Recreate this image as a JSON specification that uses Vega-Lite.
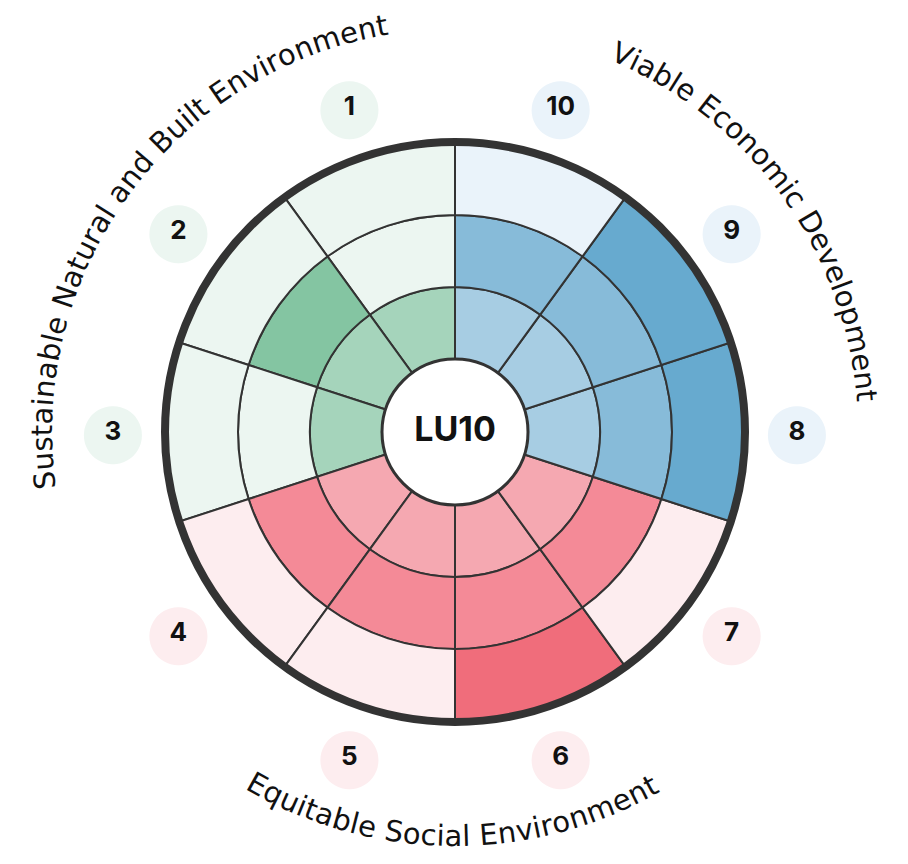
{
  "$schema": "https://vega.github.io/schema/vega-lite/v6.json",
  "width": 908,
  "height": 864,
  "autosize": {"type": "fit", "contains": "padding"},
  "padding": {"left": 2, "right": 0, "top": 0, "bottom": 0},
  "background": "#ffffff",
  "view": {"stroke": null},
  "datasets": {
    "cells": [
      {"seg": 1, "ring": 1, "a0": 324, "a1": 360, "r0": 0, "r1": 1, "lvl": "g1"},
      {"seg": 1, "ring": 2, "a0": 324, "a1": 360, "r0": 1, "r1": 2, "lvl": "g0"},
      {"seg": 1, "ring": 3, "a0": 324, "a1": 360, "r0": 2, "r1": 3, "lvl": "g0"},
      {"seg": 2, "ring": 1, "a0": 288, "a1": 324, "r0": 0, "r1": 1, "lvl": "g1"},
      {"seg": 2, "ring": 2, "a0": 288, "a1": 324, "r0": 1, "r1": 2, "lvl": "g2"},
      {"seg": 2, "ring": 3, "a0": 288, "a1": 324, "r0": 2, "r1": 3, "lvl": "g0"},
      {"seg": 3, "ring": 1, "a0": 252, "a1": 288, "r0": 0, "r1": 1, "lvl": "g1"},
      {"seg": 3, "ring": 2, "a0": 252, "a1": 288, "r0": 1, "r1": 2, "lvl": "g0"},
      {"seg": 3, "ring": 3, "a0": 252, "a1": 288, "r0": 2, "r1": 3, "lvl": "g0"},
      {"seg": 4, "ring": 1, "a0": 216, "a1": 252, "r0": 0, "r1": 1, "lvl": "r1"},
      {"seg": 4, "ring": 2, "a0": 216, "a1": 252, "r0": 1, "r1": 2, "lvl": "r2"},
      {"seg": 4, "ring": 3, "a0": 216, "a1": 252, "r0": 2, "r1": 3, "lvl": "r0"},
      {"seg": 5, "ring": 1, "a0": 180, "a1": 216, "r0": 0, "r1": 1, "lvl": "r1"},
      {"seg": 5, "ring": 2, "a0": 180, "a1": 216, "r0": 1, "r1": 2, "lvl": "r2"},
      {"seg": 5, "ring": 3, "a0": 180, "a1": 216, "r0": 2, "r1": 3, "lvl": "r0"},
      {"seg": 6, "ring": 1, "a0": 144, "a1": 180, "r0": 0, "r1": 1, "lvl": "r1"},
      {"seg": 6, "ring": 2, "a0": 144, "a1": 180, "r0": 1, "r1": 2, "lvl": "r2"},
      {"seg": 6, "ring": 3, "a0": 144, "a1": 180, "r0": 2, "r1": 3, "lvl": "r3"},
      {"seg": 7, "ring": 1, "a0": 108, "a1": 144, "r0": 0, "r1": 1, "lvl": "r1"},
      {"seg": 7, "ring": 2, "a0": 108, "a1": 144, "r0": 1, "r1": 2, "lvl": "r2"},
      {"seg": 7, "ring": 3, "a0": 108, "a1": 144, "r0": 2, "r1": 3, "lvl": "r0"},
      {"seg": 8, "ring": 1, "a0": 72, "a1": 108, "r0": 0, "r1": 1, "lvl": "b1"},
      {"seg": 8, "ring": 2, "a0": 72, "a1": 108, "r0": 1, "r1": 2, "lvl": "b2"},
      {"seg": 8, "ring": 3, "a0": 72, "a1": 108, "r0": 2, "r1": 3, "lvl": "b3"},
      {"seg": 9, "ring": 1, "a0": 36, "a1": 72, "r0": 0, "r1": 1, "lvl": "b1"},
      {"seg": 9, "ring": 2, "a0": 36, "a1": 72, "r0": 1, "r1": 2, "lvl": "b2"},
      {"seg": 9, "ring": 3, "a0": 36, "a1": 72, "r0": 2, "r1": 3, "lvl": "b3"},
      {"seg": 10, "ring": 1, "a0": 0, "a1": 36, "r0": 0, "r1": 1, "lvl": "b1"},
      {"seg": 10, "ring": 2, "a0": 0, "a1": 36, "r0": 1, "r1": 2, "lvl": "b2"},
      {"seg": 10, "ring": 3, "a0": 0, "a1": 36, "r0": 2, "r1": 3, "lvl": "b0"}
    ],
    "badges": [
      {"n": "1", "ang": 342, "lvl": "g0"},
      {"n": "2", "ang": 306, "lvl": "g0"},
      {"n": "3", "ang": 270, "lvl": "g0"},
      {"n": "4", "ang": 234, "lvl": "r0"},
      {"n": "5", "ang": 198, "lvl": "r0"},
      {"n": "6", "ang": 162, "lvl": "r0"},
      {"n": "7", "ang": 126, "lvl": "r0"},
      {"n": "8", "ang": 90, "lvl": "b0"},
      {"n": "9", "ang": 54, "lvl": "b0"},
      {"n": "10", "ang": 18, "lvl": "b0"}
    ],
    "topText": [
      {"ch": "S", "ang": 263.30}, {"ch": "u", "ang": 265.93}, {"ch": "s", "ang": 268.32}, {"ch": "t", "ang": 270.22},
      {"ch": "a", "ang": 272.30}, {"ch": "i", "ang": 274.15}, {"ch": "n", "ang": 276.04}, {"ch": "a", "ang": 278.63},
      {"ch": "b", "ang": 281.22}, {"ch": "l", "ang": 283.11}, {"ch": "e", "ang": 284.96},
      {"ch": "N", "ang": 289.11}, {"ch": "a", "ang": 291.93}, {"ch": "t", "ang": 294.02}, {"ch": "u", "ang": 296.14},
      {"ch": "r", "ang": 298.31}, {"ch": "a", "ang": 300.43}, {"ch": "l", "ang": 302.28},
      {"ch": "a", "ang": 305.45}, {"ch": "n", "ang": 308.04}, {"ch": "d", "ang": 310.67},
      {"ch": "B", "ang": 314.73}, {"ch": "u", "ang": 317.46}, {"ch": "i", "ang": 319.36}, {"ch": "l", "ang": 320.51}, {"ch": "t", "ang": 321.90},
      {"ch": "E", "ang": 325.34}, {"ch": "n", "ang": 327.97}, {"ch": "v", "ang": 330.51}, {"ch": "i", "ang": 332.31},
      {"ch": "r", "ang": 333.74}, {"ch": "o", "ang": 335.86}, {"ch": "n", "ang": 338.45}, {"ch": "m", "ang": 341.78},
      {"ch": "e", "ang": 345.08}, {"ch": "n", "ang": 347.67}, {"ch": "t", "ang": 349.80},
      {"ch": "V", "ang": 23.90}, {"ch": "i", "ang": 25.90}, {"ch": "a", "ang": 27.74}, {"ch": "b", "ang": 30.32},
      {"ch": "l", "ang": 32.20}, {"ch": "e", "ang": 34.05},
      {"ch": "E", "ang": 37.93}, {"ch": "c", "ang": 40.37}, {"ch": "o", "ang": 42.77}, {"ch": "n", "ang": 45.35},
      {"ch": "o", "ang": 47.92}, {"ch": "m", "ang": 51.19}, {"ch": "i", "ang": 53.78}, {"ch": "c", "ang": 55.49},
      {"ch": "D", "ang": 59.53}, {"ch": "e", "ang": 62.39}, {"ch": "v", "ang": 64.88}, {"ch": "e", "ang": 67.37},
      {"ch": "l", "ang": 69.22}, {"ch": "o", "ang": 71.06}, {"ch": "p", "ang": 73.63}, {"ch": "m", "ang": 76.95},
      {"ch": "e", "ang": 80.24}, {"ch": "n", "ang": 82.81}, {"ch": "t", "ang": 84.93}
    ],
    "bottomText": [
      {"ch": "E", "ang": 209.30}, {"ch": "q", "ang": 206.71}, {"ch": "u", "ang": 204.11}, {"ch": "i", "ang": 202.24},
      {"ch": "t", "ang": 200.86}, {"ch": "a", "ang": 198.80}, {"ch": "b", "ang": 196.24}, {"ch": "l", "ang": 194.37},
      {"ch": "e", "ang": 192.54},
      {"ch": "S", "ang": 188.68}, {"ch": "o", "ang": 186.12}, {"ch": "c", "ang": 183.74}, {"ch": "i", "ang": 182.04},
      {"ch": "a", "ang": 180.21}, {"ch": "l", "ang": 178.39},
      {"ch": "E", "ang": 175.22}, {"ch": "n", "ang": 172.62}, {"ch": "v", "ang": 170.11}, {"ch": "i", "ang": 168.33},
      {"ch": "r", "ang": 166.91}, {"ch": "o", "ang": 164.82}, {"ch": "n", "ang": 162.26}, {"ch": "m", "ang": 158.97},
      {"ch": "e", "ang": 155.71}, {"ch": "n", "ang": 153.15}, {"ch": "t", "ang": 151.04}
    ],
    "center": [{"label": "LU10"}]
  },
  "layer": [
    {
      "data": {"name": "cells"},
      "mark": {"type": "arc", "stroke": "#333333", "strokeWidth": 2},
      "encoding": {
        "theta": {"field": "a0", "type": "quantitative", "stack": null, "scale": {"domain": [0, 360], "range": [0, 6.283185307179586]}},
        "theta2": {"field": "a1"},
        "radius": {"field": "r0", "type": "quantitative", "scale": {"type": "linear", "domain": [0, 3], "range": [73, 289], "zero": false}},
        "radius2": {"field": "r1"},
        "color": {"field": "lvl", "type": "nominal", "legend": null,
          "scale": {"domain": ["g0", "g1", "g2", "b0", "b1", "b2", "b3", "r0", "r1", "r2", "r3"],
                    "range": ["#ecf6f1", "#a5d4bb", "#84c5a2", "#eaf3fa", "#a7cde3", "#87bbd9", "#67aacf", "#fdedef", "#f5a8b1", "#f48a97", "#f06d7b"]}}
      }
    },
    {
      "data": {"name": "center"},
      "mark": {"type": "arc", "fillOpacity": 0, "stroke": "#333333", "strokeWidth": 8},
      "encoding": {
        "theta": {"value": 0},
        "theta2": {"value": 6.283185307179586},
        "radius": {"value": 290},
        "radius2": {"value": 0}
      }
    },
    {
      "data": {"name": "center"},
      "mark": {"type": "arc", "fill": "#ffffff", "stroke": "#333333", "strokeWidth": 3},
      "encoding": {
        "theta": {"value": 0},
        "theta2": {"value": 6.283185307179586},
        "radius": {"value": 73},
        "radius2": {"value": 0}
      }
    },
    {
      "data": {"name": "center"},
      "mark": {"type": "text", "font": "Inter", "fontWeight": "bold", "fontSize": 34, "color": "#111111", "align": "center", "baseline": "middle", "dy": -1},
      "encoding": {"text": {"field": "label"}}
    },
    {
      "data": {"name": "badges"},
      "mark": {"type": "text", "font": "DejaVu Sans", "fontSize": 76, "align": "center", "baseline": "middle", "radius": 342},
      "encoding": {
        "theta": {"field": "ang", "type": "quantitative", "scale": {"domain": [0, 360], "range": [0, 6.283185307179586]}},
        "text": {"value": "●"},
        "color": {"field": "lvl", "type": "nominal", "legend": null,
          "scale": {"domain": ["g0", "g1", "g2", "b0", "b1", "b2", "b3", "r0", "r1", "r2", "r3"],
                    "range": ["#ecf6f1", "#a5d4bb", "#84c5a2", "#eaf3fa", "#a7cde3", "#87bbd9", "#67aacf", "#fdedef", "#f5a8b1", "#f48a97", "#f06d7b"]}}
      }
    },
    {
      "data": {"name": "badges"},
      "mark": {"type": "text", "font": "Inter", "fontWeight": "bold", "fontSize": 26, "color": "#111111", "align": "center", "baseline": "middle", "radius": 342},
      "encoding": {
        "theta": {"field": "ang", "type": "quantitative", "scale": {"domain": [0, 360], "range": [0, 6.283185307179586]}},
        "text": {"field": "n"}
      }
    },
    {
      "data": {"name": "topText"},
      "mark": {"type": "text", "font": "DejaVu Sans", "fontSize": 29, "color": "#111111", "align": "center", "baseline": "alphabetic", "radius": 403},
      "encoding": {
        "theta": {"field": "ang", "type": "quantitative", "scale": {"domain": [0, 360], "range": [0, 6.283185307179586]}},
        "angle": {"field": "ang", "type": "quantitative", "scale": {"domain": [0, 360], "range": [0, 360]}},
        "text": {"field": "ch"}
      }
    },
    {
      "data": {"name": "bottomText"},
      "mark": {"type": "text", "font": "DejaVu Sans", "fontSize": 29, "color": "#111111", "align": "center", "baseline": "alphabetic", "radius": 414},
      "encoding": {
        "theta": {"field": "ang", "type": "quantitative", "scale": {"domain": [0, 360], "range": [0, 6.283185307179586]}},
        "angle": {"field": "ang", "type": "quantitative", "scale": {"domain": [0, 360], "range": [-180, 180]}},
        "text": {"field": "ch"}
      }
    }
  ],
  "resolve": {"scale": {"angle": "independent"}}
}
